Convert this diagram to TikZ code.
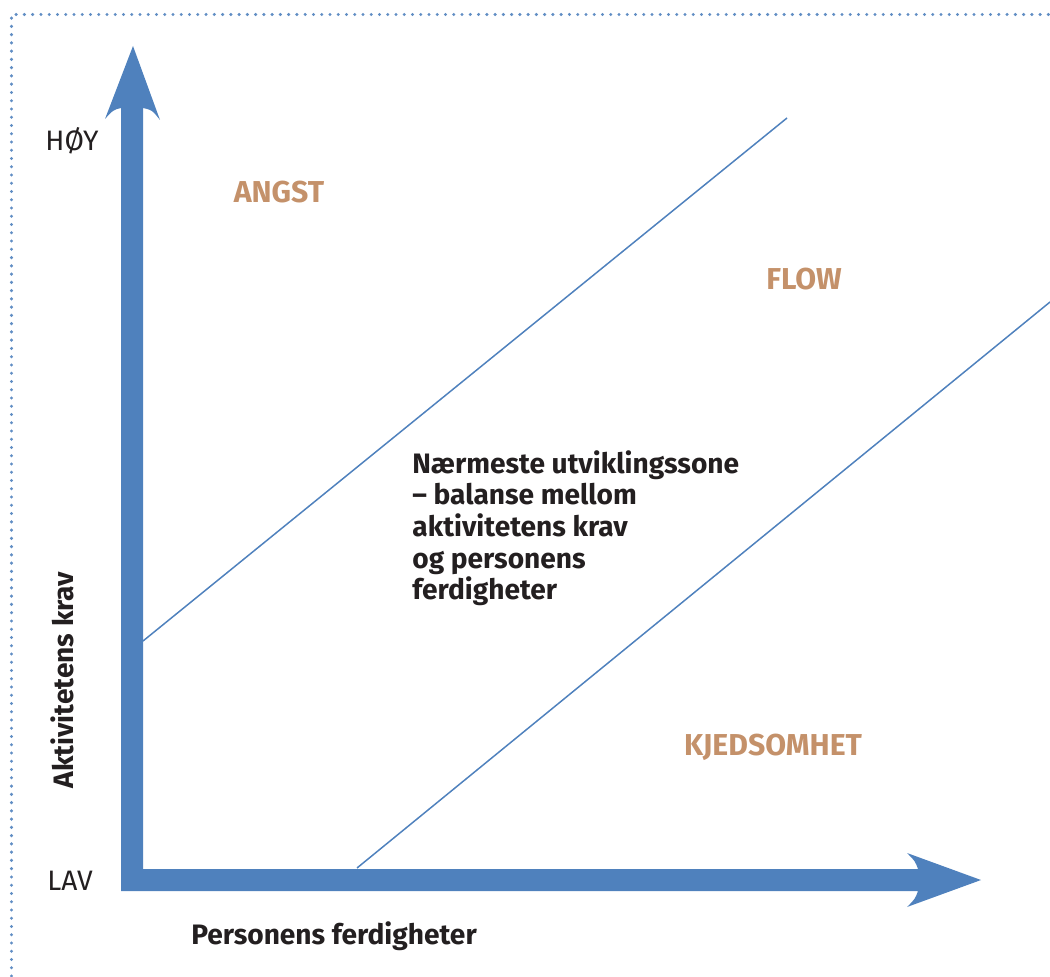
\documentclass[tikz,border=0pt]{standalone}
\usepackage{fontspec}
\setmainfont{Fira Sans}
\usepackage{tikz}

\definecolor{axisblue}{HTML}{4F81BD}
\definecolor{zonetan}{HTML}{C4916A}
\definecolor{textdark}{HTML}{231F20}

\begin{document}
\begin{tikzpicture}[x=0.02cm, y=-0.02cm,
	every node/.style={font=\fontsize{16}{18}\selectfont, text=textdark, inner sep=0pt},
	level/.style={font=\fontsize{16}{18}\selectfont},
	zone/.style={font=\fontsize{17.2}{18}\selectfont\bfseries, text=zonetan},
	axislabel/.style={font=\fontsize{16}{18}\selectfont\bfseries},
	border/.style={axisblue!90, line width=1.9pt, line cap=round, dash pattern=on 0pt off 4.7pt},
	diag/.style={axisblue, line width=0.85pt}]
	\useasboundingbox (0,0) rectangle (1050,976);
	\draw[border] (11.5,976) -- (11.5,14.5) -- (1050,14.5);
	% axes as one filled shape
	\fill[axisblue] (121,891) -- (121,108) .. controls (113,110) .. (105,119) -- (133,46)
		-- (160,120) .. controls (152,110) .. (143,108) -- (143,869) -- (918,869)
		.. controls (915,861) .. (907,853) -- (981,880) -- (907,907)
		.. controls (915,899) .. (918,891) -- cycle;
	% zone borders
	\coordinate (upperstart) at (143,641);
	\coordinate (upperend) at (787,118);
	\coordinate (lowerstart) at (357,868);
	\coordinate (lowerend) at (1050,302);
	\draw[diag] (upperstart) -- (upperend);
	\draw[diag] (lowerstart) -- (lowerend);
	\node[level] (hoy) at (72,141) {HØY};
	\node[level] (lav) at (70,881) {LAV};
	\node[zone] (angst) at (279,192) {ANGST};
	\node[zone] (flow) at (804,279) {FLOW};
	\node[zone] (kjedsomhet) at (773,747) {KJEDSOMHET};
	\node[axislabel, anchor=north west, align=left] (sone) at (412,450)
		{Nærmeste utviklingssone\\– balanse mellom\\aktivitetens krav\\og personens\\ferdigheter};
	\node[axislabel, rotate=90] (krav) at (62,680) {Aktivitetens krav};
	\node[axislabel] (ferdig) at (334,936) {Personens ferdigheter};
\end{tikzpicture}
\end{document}
